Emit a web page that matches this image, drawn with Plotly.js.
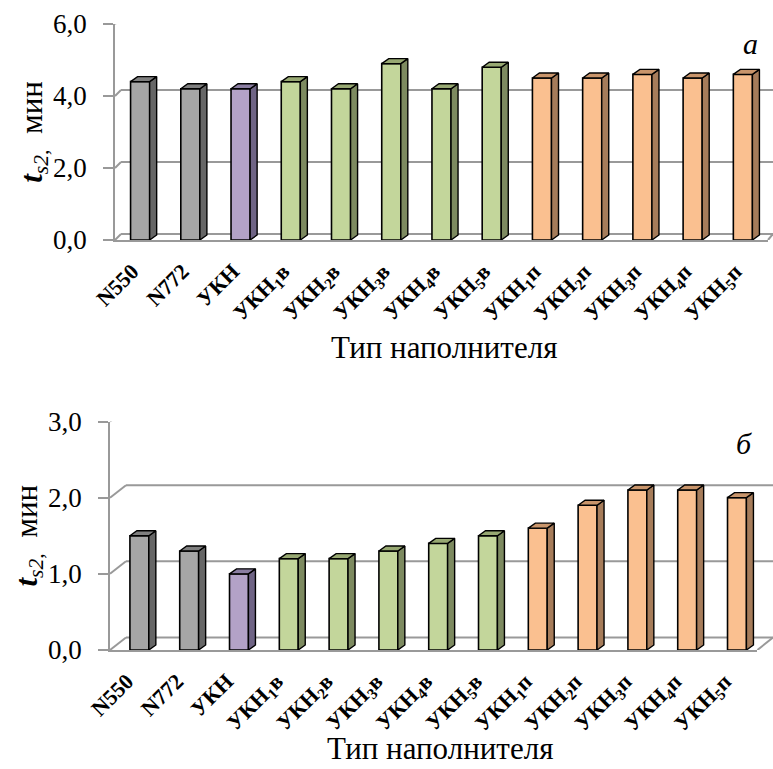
<!DOCTYPE html>
<html>
<head>
<meta charset="utf-8">
<script src="https://cdn.plot.ly/plotly-3.0.1.min.js"></script>
<style>html,body{margin:0;padding:0;background:#fff;}#chart{width:773px;height:769px;}</style>
</head>
<body>
<div id="chart"></div>
<script>
// ---- data ----
const categories = ['N550','N772','УКН','УКН<sub>1</sub>в','УКН<sub>2</sub>в','УКН<sub>3</sub>в','УКН<sub>4</sub>в','УКН<sub>5</sub>в','УКН<sub>1</sub>п','УКН<sub>2</sub>п','УКН<sub>3</sub>п','УКН<sub>4</sub>п','УКН<sub>5</sub>п'];
const groups = ['gray','gray','purple','green','green','green','green','green','orange','orange','orange','orange','orange'];
const valuesA = [4.4, 4.2, 4.2, 4.4, 4.2, 4.9, 4.2, 4.8, 4.5, 4.5, 4.6, 4.5, 4.6];
const valuesB = [1.5, 1.3, 1.0, 1.2, 1.2, 1.3, 1.4, 1.5, 1.6, 1.9, 2.1, 2.1, 2.0];
const ticksA = [0, 2, 4, 6];
const tickLabelsA = ['0,0', '2,0', '4,0', '6,0'];
const ticksB = [0, 1, 2, 3];
const tickLabelsB = ['0,0', '1,0', '2,0', '3,0'];
const xTitle = 'Тип наполнителя';
const yTitle = '<b><i>t</i></b><i><sub>s2,</sub></i>\u00a0\u00a0мин';
const panelLabels = ['<i>а</i>', '<i>б</i>'];

// ---- style ----
const W = 773, H = 769;
const colors = {
  gray:   {front:'#a6a6a6', side:'#666666', top:'#7f7f7f'},
  purple: {front:'#b3a2c7', side:'#6f6485', top:'#8b7ea2'},
  green:  {front:'#c3d69b', side:'#7d8a60', top:'#97a872'},
  orange: {front:'#fac090', side:'#a67c5a', top:'#c9956b'}
};
const gridColor = '#999999';
const serif = 'Liberation Serif';
const xPad = '\u2002';          // pushes the rotated labels away from the axis
const yPad = '\u2009\u2009';    // gap between y labels and ticks

const panels = [
  {vals: valuesA, ticks: ticksA, labels: tickLabelsA, ymax: 6, L:115, R:768, T:24, B:240, wdx:6, wdy:6, off:0.0, xa:'x', ya:'y', label: panelLabels[0], lx:750, ly:43, tx:444, ty:347},
  {vals: valuesB, ticks: ticksB, labels: tickLabelsB, ymax: 3, L:110, R:757.4, T:421.5, B:650, wdx:16, wdy:12.5, off:0.09, xa:'x2', ya:'y2', label: panelLabels[1], lx:744, ly:443, tx:440, ty:748}
];

const barW = 0.38;
const traces = [];
const shapes = [];
const annotations = [];
const layout = {
  width: W, height: H,
  margin: {l:0, r:0, t:0, b:0},
  paper_bgcolor: '#ffffff', plot_bgcolor: 'rgba(0,0,0,0)',
  showlegend: false,
  shapes: shapes, annotations: annotations
};

const xIdx = categories.map((c, i) => i);
const boundaries = categories.map((c, i) => i - 0.5).concat([categories.length - 0.5]);

panels.forEach((p, k) => {
  const pxPerCat = (p.R - p.L) / categories.length;
  const pxPerUnit = (p.B - p.T) / p.ymax;
  const dxu = 7 / pxPerCat, dyu = 5 / pxPerUnit;
  const sfx = k === 0 ? '' : '2';

  traces.push({
    type: 'bar', x: xIdx, y: p.vals, xaxis: p.xa, yaxis: p.ya,
    width: barW, offset: -barW / 2 + p.off,
    marker: {color: groups.map(g => colors[g].front), line: {color: '#000', width: 1.6}},
    hoverinfo: 'skip'
  });
  Object.keys(colors).forEach(g => {
    const sx = [], sy = [], tx = [], ty = [];
    p.vals.forEach((v, i) => {
      if (groups[i] !== g) return;
      const x0 = i - barW / 2 + p.off, x1 = x0 + barW;
      sx.push(x1, x1, x1 + dxu, x1 + dxu, x1, null);
      sy.push(0, v, v + dyu, dyu, 0, null);
      tx.push(x0, x1, x1 + dxu, x0 + dxu, x0, null);
      ty.push(v, v, v + dyu, v + dyu, v, null);
    });
    [[sx, sy, colors[g].side], [tx, ty, colors[g].top]].forEach(([X, Y, c]) => {
      traces.push({
        type: 'scatter', mode: 'lines', x: X, y: Y, xaxis: p.xa, yaxis: p.ya,
        fill: 'toself', fillcolor: c, line: {color: '#000', width: 1.4},
        connectgaps: false, hoverinfo: 'skip'
      });
    });
  });

  const yref = p.ya;
  p.ticks.forEach(v => {
    shapes.push({type:'line', xref:'paper', yref: yref, ysizemode:'pixel', yanchor: v,
      x0: p.L / W, x1: (p.L + p.wdx) / W, y0: 0, y1: p.wdy, line:{color: gridColor, width: 2}, layer:'below'});
    shapes.push({type:'line', xref:'paper', yref: yref, ysizemode:'pixel', yanchor: v,
      x0: (p.L + p.wdx) / W, x1: Math.min(1, (p.R + p.wdx) / W), y0: p.wdy, y1: p.wdy, line:{color: gridColor, width: 2}, layer:'below'});
  });
  shapes.push({type:'line', xref:'paper', yref: yref, ysizemode:'pixel', yanchor: 0,
    x0: p.R / W, x1: Math.min(1, (p.R + p.wdx) / W), y0: 0, y1: p.wdy, line:{color: gridColor, width: 2}, layer:'below'});
  boundaries.forEach(b => {
    shapes.push({type:'line', xref: p.xa, yref: yref, ysizemode:'pixel', yanchor: 0,
      x0: b, x1: b, y0: 0, y1: -7, line:{color: gridColor, width: 2}});
  });

  layout['xaxis' + sfx] = {
    domain: [p.L / W, p.R / W], anchor: 'y' + sfx,
    range: [-0.5, categories.length - 0.5],
    tickmode: 'array', tickvals: xIdx, ticktext: categories.map(c => '<b>' + c + '</b>' + xPad), ticks: '',
    tickangle: -45, tickfont: {family: serif, size: 22, color: '#000000'},
    showline: true, linecolor: gridColor, linewidth: 2, showgrid: false, zeroline: false
  };
  layout['yaxis' + sfx] = {
    domain: [1 - p.B / H, 1 - p.T / H], anchor: 'x' + sfx,
    range: [0, p.ymax], tickmode: 'array', tickvals: p.ticks, ticktext: p.labels.map(t => t + yPad),
    ticks: 'outside', ticklen: 10, tickwidth: 2, tickcolor: gridColor,
    tickfont: {family: serif, size: 27, color: '#000000'},
    showline: true, linecolor: gridColor, linewidth: 2, showgrid: false, zeroline: false,
    title: {text: yTitle, font: {family: serif, size: 31, color: '#000000'}, standoff: 0}
  };

  annotations.push({xref:'paper', yref:'paper', x: p.tx / W, y: 1 - p.ty / H, text: xTitle, showarrow:false,
    font:{family: serif, size: 31, color:'#000000'}, xanchor:'center', yanchor:'middle'});
  annotations.push({xref:'paper', yref:'paper', x: p.lx / W, y: 1 - p.ly / H, text: p.label, showarrow:false,
    font:{family: serif, size: 30, color:'#000000'}, xanchor:'center', yanchor:'middle'});
});

Plotly.newPlot('chart', traces, layout, {displayModeBar: false});
</script>
</body>
</html>
